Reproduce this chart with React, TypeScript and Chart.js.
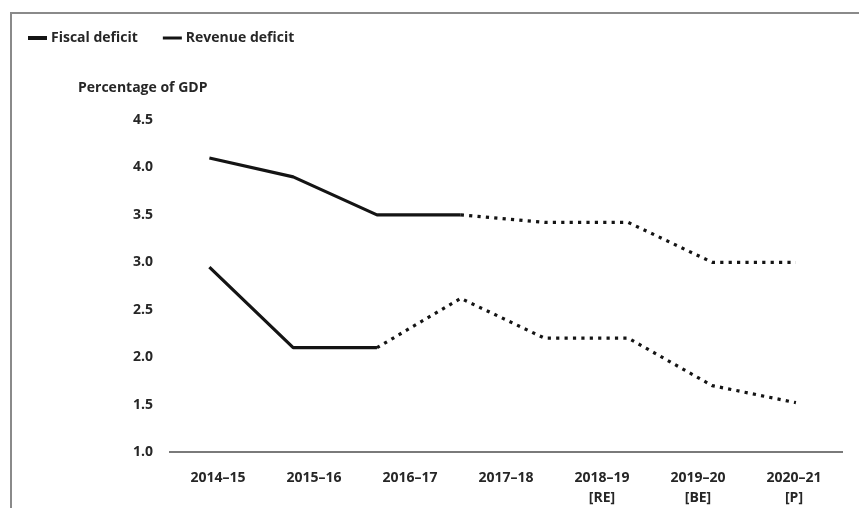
import React, { useEffect, useRef } from "react";
import { Chart, registerables } from "chart.js";

Chart.register(...registerables);

// ---- data ----
const xLabels: (string | string[])[] = [
  "2014–15",
  "2015–16",
  "2016–17",
  "2017–18",
  ["2018–19", "[RE]"],
  ["2019–20", "[BE]"],
  ["2020–21", "[P]"],
];
const pointIndex = [0, 1, 2, 3, 4, 5, 6, 7];
const fiscalDeficit = [4.1, 3.9, 3.5, 3.5, 3.42, 3.42, 3.0, 3.0];
const revenueDeficit = [2.95, 2.1, 2.1, 2.62, 2.2, 2.2, 1.7, 1.52];
const fiscalSolidThrough = 3;
const revenueSolidThrough = 2;
const seriesNames = ["Fiscal deficit", "Revenue deficit"];
const yTitle = "Percentage of GDP";
const yTicks = [1.0, 1.5, 2.0, 2.5, 3.0, 3.5, 4.0, 4.5];

const FONT = "'Open Sans', 'DejaVu Sans', sans-serif";
const TEXT = "#262626";
const LINE = "#141414";
const DOT = [3.2, 5.2];

const overlayPlugin = {
  id: "overlay",
  afterDraw(chart: any) {
    const ctx = chart.ctx;
    const area = chart.chartArea;
    ctx.save();
    ctx.font = `700 14px ${FONT}`;
    ctx.fillStyle = TEXT;
    ctx.textBaseline = "middle";
    ctx.textAlign = "left";
    // y title
    ctx.fillText(yTitle, area.left - 92, area.top - 32);
    // legend
    let x = 28;
    const y = 38;
    chart.data.datasets.forEach((ds: any, i: number) => {
      ctx.strokeStyle = LINE;
      ctx.lineWidth = i === 0 ? 4 : 3;
      ctx.setLineDash([]);
      ctx.beginPath();
      ctx.moveTo(x, y);
      ctx.lineTo(x + 19, y);
      ctx.stroke();
      x += 23;
      ctx.fillText(ds.label, x, y);
      x += ctx.measureText(ds.label).width + 25;
    });
    ctx.restore();
  },
};

export default function App() {
  const ref = useRef<HTMLCanvasElement | null>(null);

  useEffect(() => {
    document.body.style.margin = "0";
    const canvas = ref.current;
    if (!canvas) return;
    const mk = (vals: number[], solidThrough: number, label: string) => ({
      label,
      data: pointIndex.map((i) => ({ x: i, y: vals[i] })),
      xAxisID: "x",
      yAxisID: "y",
      borderColor: LINE,
      backgroundColor: LINE,
      borderWidth: 3.2,
      pointRadius: 0,
      pointHoverRadius: 0,
      tension: 0,
      fill: false,
      borderJoinStyle: "round" as const,
      segment: {
        borderDash: (c: any) => (c.p0DataIndex >= solidThrough ? DOT : undefined),
      },
    });
    const chart = new Chart(canvas, {
      type: "line",
      data: {
        labels: xLabels as any,
        datasets: [
          mk(fiscalDeficit, fiscalSolidThrough, seriesNames[0]),
          mk(revenueDeficit, revenueSolidThrough, seriesNames[1]),
        ] as any,
      },
      plugins: [overlayPlugin],
      options: {
        responsive: false,
        animation: false,
        events: [],
        layout: { padding: { left: 0, right: 17, top: 120, bottom: 0 } },
        plugins: {
          legend: { display: false },
          title: { display: false },
          tooltip: { enabled: false },
        },
        scales: {
          x: {
            type: "linear",
            display: false,
            min: -0.47,
            max: 7.55,
          },
          xl: {
            type: "category",
            position: "bottom",
            offset: true,
            grid: { display: false, drawTicks: false },
            border: { display: true, color: "#7a7a7a", width: 2 },
            ticks: {
              color: TEXT,
              font: { family: FONT, size: 14, weight: "700", lineHeight: 1.45 },
              padding: 16,
              maxRotation: 0,
              autoSkip: false,
            },
            afterFit: (s: any) => {
              s.height = 56;
            },
          },
          y: {
            type: "linear",
            min: 1.0,
            max: 4.5,
            afterBuildTicks: (s: any) => {
              s.ticks = yTicks.map((v) => ({ value: v }));
            },
            grid: { display: false, drawTicks: false },
            border: { display: false },
            ticks: {
              color: TEXT,
              font: { family: FONT, size: 14, weight: "700" },
              padding: 17,
              callback: (v: any) => Number(v).toFixed(1),
            },
            afterFit: (s: any) => {
              s.width = 170;
            },
          },
        },
      } as any,
    });
    return () => chart.destroy();
  }, []);

  return (
    <div style={{ position: "relative", width: 859, height: 508, background: "#fff" }}>
      <div
        style={{
          position: "absolute",
          left: 10,
          top: 12,
          width: 849,
          height: 496,
          borderTop: "2px solid #8a8a8a",
          borderLeft: "2px solid #8a8a8a",
          boxSizing: "border-box",
        }}
      />
      <canvas ref={ref} width={859} height={508} style={{ position: "absolute", left: 0, top: 0 }} />
    </div>
  );
}
